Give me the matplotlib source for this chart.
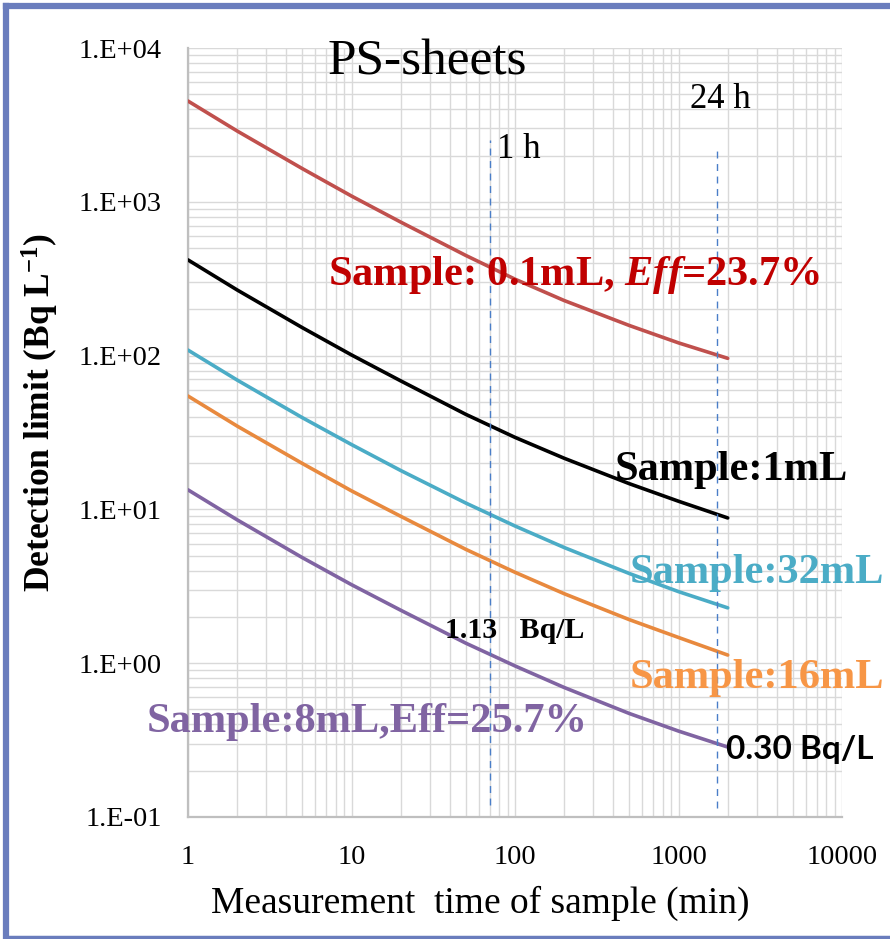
import matplotlib
matplotlib.use("Agg")
import matplotlib.pyplot as plt
from matplotlib.lines import Line2D
from matplotlib.ticker import LogLocator, FixedLocator, NullFormatter

# ---------------- data ----------------
t_min = [1, 2, 5, 10, 20, 50, 100, 200, 500, 1000, 2000]
dl_01ml = [4520, 2885, 1644, 1090, 738, 448, 314, 228, 157, 121, 96]
dl_1ml = [419, 267, 152, 101, 68.5, 41.5, 29.4, 21.5, 14.7, 11.3, 8.8]
dl_32ml = [108.6, 69.3, 39.5, 26.4, 17.9, 11.0, 7.80, 5.65, 3.83, 2.92, 2.29]
dl_16ml = [54.6, 34.8, 19.9, 13.2, 9.02, 5.50, 3.90, 2.83, 1.92, 1.47, 1.13]
dl_8ml = [13.4, 8.55, 4.86, 3.24, 2.21, 1.35, 0.960, 0.695, 0.471, 0.362, 0.285]

x_ticks = [1, 10, 100, 1000, 10000]
x_tick_labels = ["1", "10", "100", "1000", "10000"]
y_ticks = [0.1, 1, 10, 100, 1000, 10000]
y_tick_labels = ["1.E-01", "1.E+00", "1.E+01", "1.E+02", "1.E+03", "1.E+04"]

marker_1h_x = 70.3
marker_24h_x = 1719
marker_1h_y = [0.12, 2520]
marker_24h_y = [0.115, 2240]

# ---------------- style ----------------
serif = ["Liberation Serif", "DejaVu Serif"]
plt.rcParams["font.family"] = serif
plt.rcParams["mathtext.fontset"] = "custom"
plt.rcParams["mathtext.it"] = "Liberation Serif:italic:bold"
plt.rcParams["mathtext.bf"] = "Liberation Serif:bold"
plt.rcParams["mathtext.rm"] = "Liberation Serif:bold"

W, H = 890, 939
fig = plt.figure(figsize=(W / 100, H / 100), dpi=100)
ax = fig.add_axes([188 / W, (H - 817) / H, 654 / W, 769 / H])

ax.set_xscale("log")
ax.set_yscale("log")
ax.set_xlim(1, 10000)
ax.set_ylim(0.1, 10000)

# grid
ax.xaxis.set_major_locator(FixedLocator(x_ticks))
ax.yaxis.set_major_locator(FixedLocator(y_ticks))
ax.xaxis.set_minor_locator(LogLocator(base=10, subs=range(2, 10), numticks=50))
ax.yaxis.set_minor_locator(LogLocator(base=10, subs=range(2, 10), numticks=50))
ax.xaxis.set_minor_formatter(NullFormatter())
ax.yaxis.set_minor_formatter(NullFormatter())
ax.set_xticklabels(x_tick_labels)
ax.set_yticklabels(y_tick_labels)
ax.grid(True, which="both", color="#D9D9D9", linewidth=1.0)
ax.set_axisbelow(True)
ax.tick_params(which="both", length=0)
ax.tick_params(axis="x", pad=20, labelsize=20.5)
ax.tick_params(axis="y", pad=19, labelsize=20.5)
for s in ["top", "right"]:
    ax.spines[s].set_visible(False)
for s in ["left", "bottom"]:
    ax.spines[s].set_color("#BFBFBF")
    ax.spines[s].set_linewidth(1.6)

# curves
lw = 2.6
ax.plot(t_min, dl_01ml, color="#C0504D", lw=lw, solid_capstyle="round", zorder=3)
ax.plot(t_min, dl_1ml, color="#000000", lw=lw, solid_capstyle="round", zorder=3)
ax.plot(t_min, dl_32ml, color="#4BACC6", lw=lw, solid_capstyle="round", zorder=3)
ax.plot(t_min, dl_16ml, color="#E8893E", lw=lw, solid_capstyle="round", zorder=3)
ax.plot(t_min, dl_8ml, color="#8064A2", lw=lw, solid_capstyle="round", zorder=3)

# dashed markers
ax.plot([marker_1h_x, marker_1h_x], marker_1h_y, color="#4A7EC8", lw=1.0,
        dashes=(5, 4), zorder=4)
ax.plot([marker_24h_x, marker_24h_x], marker_24h_y, color="#4A7EC8", lw=1.0,
        dashes=(5, 4), zorder=4)

# axis labels
ax.set_xlabel("Measurement  time of sample (min)", fontsize=27)
ax.xaxis.set_label_coords((480 - 188) / 654, (817 - 886) / 769)
ax.set_ylabel("Detection limit (Bq L$^{\\mathrm{-1}}$)", fontsize=25.5,
              fontweight="bold")
ax.yaxis.set_label_coords((61 - 188) / 654, (817 - 412) / 769)


def px(xp, yp):
    return ((xp - 188) / 654, (817 - yp) / 769)


def put(xp, yp, s, **kw):
    x, y = px(xp, yp)
    ax.text(x, y, s, transform=ax.transAxes, ha="left", va="center", zorder=5, **kw)


put(328, 62, "PS-sheets", fontsize=37)
put(497, 150, "1 h", fontsize=25)
put(690, 100, "24 h", fontsize=25)

put(328, 275, "Sample: 0.1mL, $\\mathit{Eff}$=23.7%", fontsize=30.5,
    fontweight="bold", color="#C00000")
put(615, 470, "Sample:1mL", fontsize=30.5, fontweight="bold", color="#000000")
put(630, 573, "Sample:32mL", fontsize=30.5, fontweight="bold", color="#4BACC6")
put(630, 678, "Sample:16mL", fontsize=30.5, fontweight="bold", color="#F79646")
put(147, 722, "Sample:8mL,Eff=25.7%", fontsize=30.5, fontweight="bold", color="#8064A2")
put(445, 630, "1.13   Bq/L", fontsize=21.5, fontweight="bold", color="#000000")
put(726, 750, "0.30 Bq/L", fontsize=24, fontweight="bold", color="#000000",
    family=["Lato", "DejaVu Sans"])

# figure frame
fc = "#6A7DBD"
fig.add_artist(Line2D([6 / W, 6 / W], [1 - 6 / H, 2 / H], transform=fig.transFigure,
                      color=fc, lw=4.5))
fig.add_artist(Line2D([6 / W, 1.0], [1 - 6 / H, 1 - 6 / H], transform=fig.transFigure,
                      color=fc, lw=4.5))
fig.add_artist(Line2D([6 / W, 1.0], [2 / H, 2 / H], transform=fig.transFigure,
                      color=fc, lw=2.5))

fig.savefig("out.png", dpi=100)
